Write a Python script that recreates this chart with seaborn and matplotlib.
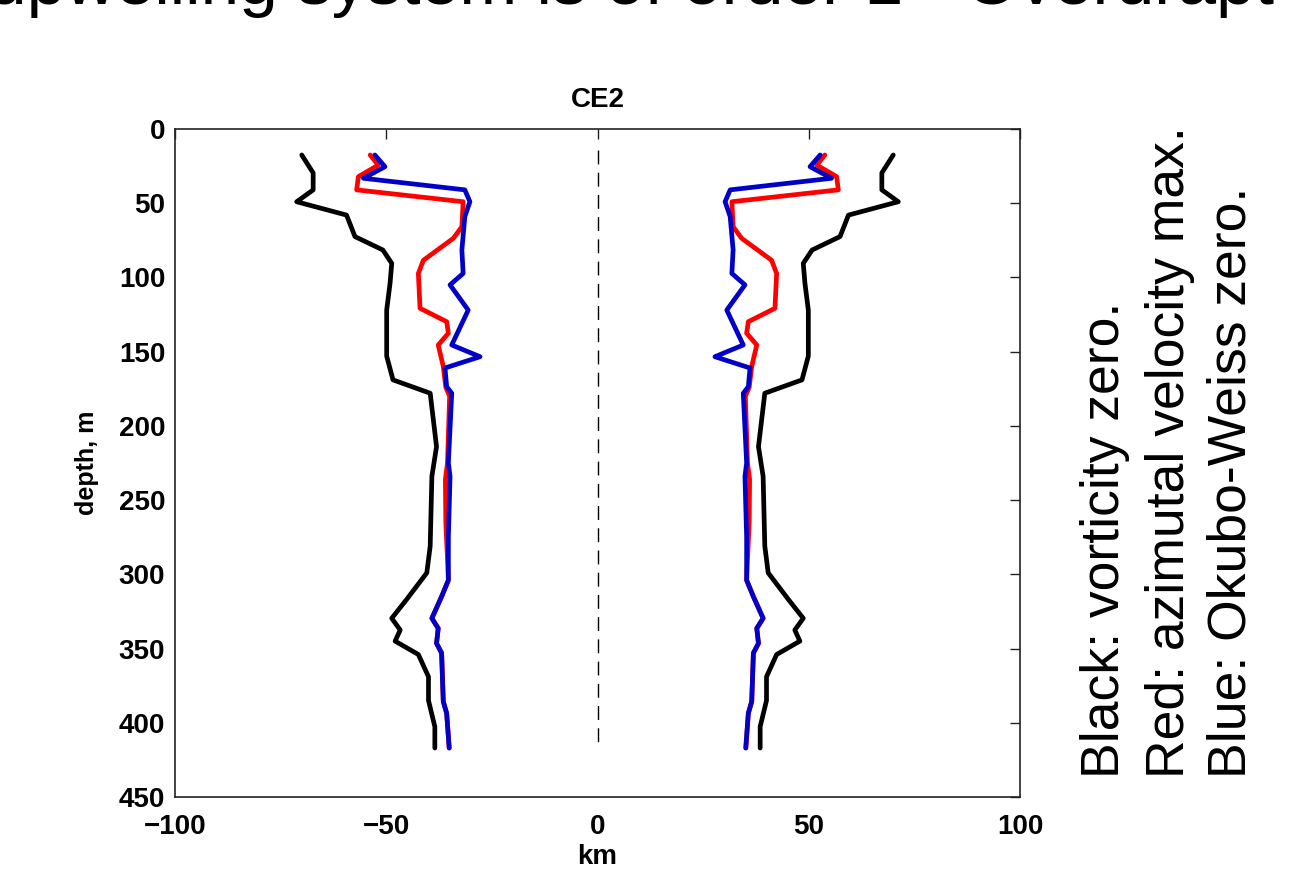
import matplotlib
matplotlib.use("Agg")
import matplotlib.pyplot as plt
import seaborn as sns
import pandas as pd

# ---- data (left half of the eddy; right half is mirror) ----
black_depth = [17.5, 29.6, 41, 49, 58, 72.5, 81.5, 90.5, 104, 122, 153, 169, 178, 214, 234, 281, 299, 317, 329.6, 337.5, 345, 354, 369, 385, 402.6, 417]
black_km = [-70.0, -67.3, -67.3, -71.2, -59.4, -57.4, -50.8, -48.7, -49.1, -49.9, -49.9, -48.4, -39.6, -38.1, -39.2, -39.6, -40.4, -45.2, -48.7, -46.7, -47.9, -42.4, -40.0, -40.0, -38.5, -38.5]

red_depth = [17.5, 24.3, 32.1, 41, 49, 65.8, 73.6, 88.4, 97.3, 120.8, 129.8, 137.6, 145.5, 160, 174, 180, 225, 236, 265, 290, 304, 315, 329.6, 336.4, 346.5, 353, 385.7, 393.6, 417]
red_km = [-53.8, -51.9, -56.6, -57.0, -31.8, -32.1, -34.1, -41.2, -42.4, -42.0, -35.7, -35.3, -37.7, -36.5, -35.9, -35.0, -35.5, -36.0, -35.9, -35.5, -35.3, -36.9, -39.2, -37.7, -38.1, -36.9, -36.5, -35.7, -35.1]

blue_depth = [17.5, 25.4, 33.2, 41, 49, 59, 81.5, 97.3, 105, 122, 145.5, 153.4, 161, 173.6, 178, 225, 234, 275, 304, 315, 329.6, 336.4, 346.5, 353, 385.7, 393.6, 417]
blue_km = [-52.7, -50.3, -55.4, -31.4, -30.2, -31.4, -32.1, -31.8, -34.9, -30.6, -34.5, -27.8, -36.1, -35.7, -34.5, -35.3, -34.9, -35.3, -35.3, -36.9, -39.2, -37.7, -38.1, -36.9, -36.5, -35.7, -35.1]

x_ticks = [-100, -50, 0, 50, 100]
y_ticks = [0, 50, 100, 150, 200, 250, 300, 350, 400, 450]
center_depth = [14, 417]
center_km = [0, 0]

title = "CE2"
xlabel = "km"
ylabel = "depth, m"
side_lines = ["Black: vorticity zero.", "Red: azimutal velocity max.", "Blue: Okubo-Weiss zero."]
top_text = "upwelling system is of order 1 - Overdrapt"

sns.set_style("white")
plt.rcParams['font.family'] = ['Liberation Sans', 'DejaVu Sans']
plt.rcParams['text.color'] = 'black'
plt.rcParams['axes.labelcolor'] = 'black'

fig = plt.figure(figsize=(12.96, 8.92), dpi=100)
ax = fig.add_axes([175/1296, 1-797/892, (1020-175)/1296, (797-129)/892])

sns.lineplot(x=center_km, y=center_depth, ax=ax, color='black', lw=1.0, linestyle=(0, (10, 6)), sort=False, estimator=None)

for depth, km, col in [(black_depth, black_km, 'black'), (red_depth, red_km, '#ff0000'), (blue_depth, blue_km, '#0000c8')]:
    for sign in (1, -1):
        df = pd.DataFrame({'km': [sign * k for k in km], 'depth': depth})
        sns.lineplot(data=df, x='km', y='depth', ax=ax, color=col, lw=3.4, sort=False, estimator=None)

ax.set_xlim(-100, 100)
ax.set_ylim(450, 0)
ax.set_xticks(x_ticks)
ax.set_yticks(y_ticks)
ax.set_xticklabels([f"\u2212{abs(t)}" if t < 0 else str(t) for t in x_ticks], fontweight='bold', fontsize=20)
ax.set_yticklabels([str(t) for t in y_ticks], fontweight='bold', fontsize=20)
ax.tick_params(axis='x', pad=12)
ax.tick_params(axis='y', pad=7)
ax.tick_params(direction='in', length=7, width=1, top=True, right=True, colors='#222222', labelcolor='black')
for s in ax.spines.values():
    s.set_linewidth(1.2)
    s.set_color('#222222')
ax.set_xlabel(xlabel, fontweight='bold', fontsize=20, labelpad=3)
ax.set_ylabel(ylabel, fontweight='bold', fontsize=18, labelpad=14)
ax.set_title(title, fontweight='bold', fontsize=20, pad=16)

xs = [1105, 1170, 1232]
for x, t in zip(xs, side_lines):
    fig.text(x/1296, 1-778/892, t, rotation=90, ha='center', va='bottom', fontsize=38.5, color='black')

fig.text(-12/1296, 1-4/892, top_text, ha='left', va='baseline', fontsize=50, color='black')

fig.savefig("out.png", dpi=100)
